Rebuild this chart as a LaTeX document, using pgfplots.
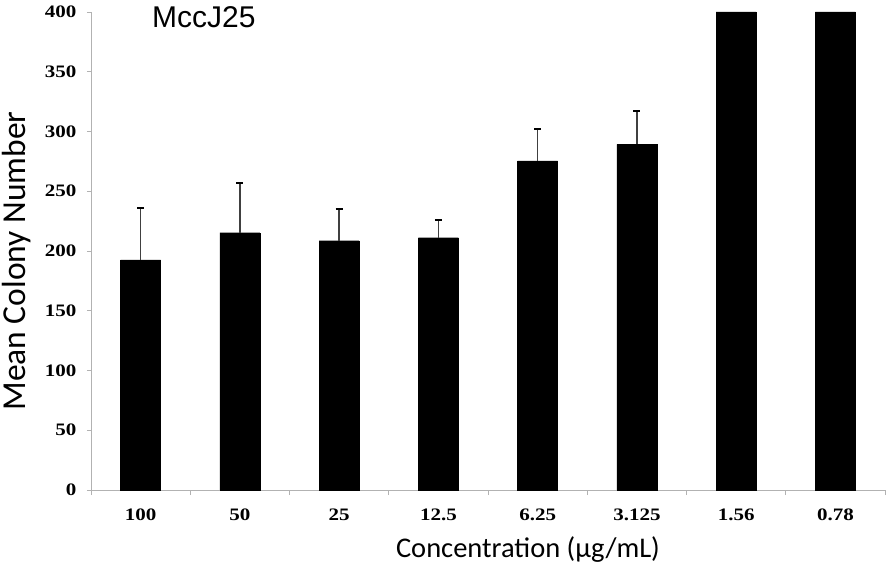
\documentclass[border=0pt]{standalone}
\usepackage{fontspec}
\usepackage{pgfplots}
\pgfplotsset{compat=1.18}
\setmainfont{Liberation Serif}
\newfontfamily\tickfont[FakeStretch=1.2]{Liberation Serif}
\newfontfamily\labfont{Carlito}
\newfontfamily\titfont{Liberation Sans}
\pgfplotstableread{
x y
0 192.5
1 215.3
2 208.6
3 211.1
4 275.5
5 289.3
6 400
7 400
}\bartable
\pgfplotstableread{
x y err
0 192.5 43.2
1 215.3 41.3
2 208.6 26.3
3 211.1 15.0
4 275.5 26.3
5 289.3 27.6
}\errtable
\begin{document}
\begin{tikzpicture}
\path[use as bounding box] (-91pt,-85pt) rectangle (805pt,490pt);
\begin{axis}[
  scale only axis,
  width=794pt, height=478pt,
  xmin=-0.5, xmax=7.5,
  ymin=0, ymax=400,
  axis x line*=bottom,
  axis y line*=left,
  axis line style={draw=black!30, line width=0.8pt},
  xtick={0,...,7},
  xticklabels={100,50,25,12.5,6.25,3.125,1.56,0.78},
  minor xtick={-0.5,0.5,...,7.5},
  major x tick style={draw=none},
  minor x tick style={draw=black!30, line width=0.8pt},
  ytick={0,50,...,400},
  ytick style={draw=black!30, line width=0.8pt},
  tick align=outside,
  major tick length=4pt,
  minor tick length=5pt,
  /pgf/number format/assume math mode=true,
  tick label style={font=\fontsize{17.5}{18}\tickfont\bfseries},
  xticklabel style={yshift=-11pt},
  yticklabel style={xshift=-7pt},
  xlabel={Concentration (µg/mL)},
  xlabel style={font=\fontsize{28.5}{30}\labfont, at={(axis description cs:0.5,0)}, anchor=center, yshift=-60pt, xshift=40pt},
  ylabel={Mean Colony Number},
  ylabel style={font=\fontsize{33.5}{35}\labfont, at={(axis description cs:0,0.5)}, anchor=center, yshift=74pt, xshift=-10pt},
  clip=false,
]
\addplot[ybar, bar width=40pt, fill=black, draw=black] table[x=x, y=y] {\bartable};
\addplot[draw=none, mark=none,
  error bars/.cd, y dir=plus, y explicit,
  error bar style={line width=1.3pt, black!75},
  error mark options={rotate=90, mark size=3.5pt, line width=1.8pt, black}]
  table[x=x, y=y, y error=err] {\errtable};
\node[font=\fontsize{30}{31}\titfont, anchor=north west, inner sep=0pt] at (axis cs:0.115,405) {MccJ25};
\end{axis}
\end{tikzpicture}
\end{document}
